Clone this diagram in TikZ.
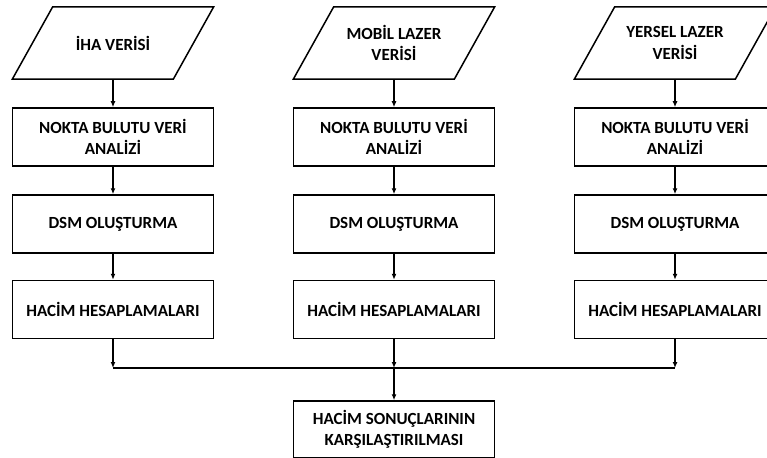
\documentclass[tikz,border=0pt]{standalone}
\usepackage{fontspec}
\setmainfont{Carlito}
\usetikzlibrary{arrows.meta}
\begin{document}
\begin{tikzpicture}[x=1pt,y=-1pt,
  txt/.style={align=center,font=\bfseries\fontsize{17}{21.5}\selectfont,inner sep=0pt},
  stepbox/.style={txt,draw,line width=1.5pt,minimum width=201pt,minimum height=58pt},
  databox/.style={txt,minimum width=201pt,minimum height=72pt},
  para/.style={line width=1.5pt,line join=miter},
  arr/.style={line width=1.6pt,-{Latex[length=6pt,width=5pt]}},
  bus/.style={line width=2.6pt}]
\useasboundingbox (0,0) rectangle (767,457);
\clip (0,0) rectangle (767,457);
% data inputs
\node[databox] (d1) at (113,43) {İHA VERİSİ};
\node[databox] (d2) at (394,43) {MOBİL LAZER\\VERİSİ};
\node[databox] (d3) at (675,43) {YERSEL LAZER\\VERİSİ};
\foreach \d in {d1,d2,d3}
  \draw[para] (\d.south west) -- ++(161,0) -- (\d.north east) -- ++(-161,0) -- cycle;
% point cloud analysis
\node[stepbox] (n1) at (113,137) {NOKTA BULUTU VERİ\\ANALİZİ};
\node[stepbox] (n2) at (394,137) {NOKTA BULUTU VERİ\\ANALİZİ};
\node[stepbox] (n3) at (675,137) {NOKTA BULUTU VERİ\\ANALİZİ};
% DSM
\node[stepbox] (s1) at (113,224) {DSM OLUŞTURMA};
\node[stepbox] (s2) at (394,224) {DSM OLUŞTURMA};
\node[stepbox] (s3) at (675,224) {DSM OLUŞTURMA};
% volume
\node[stepbox] (h1) at (113,309.5) {HACİM HESAPLAMALARI};
\node[stepbox] (h2) at (394,309.5) {HACİM HESAPLAMALARI};
\node[stepbox] (h3) at (675,309.5) {HACİM HESAPLAMALARI};
% comparison
\node[stepbox,minimum height=57pt] (c) at (394,429.5) {HACİM SONUÇLARININ\\KARŞILAŞTIRILMASI};
% junctions
\coordinate (j1) at (113,368);
\coordinate (j2) at (394,368);
\coordinate (j3) at (675,368);
\draw[bus] (j1) -- (j3);
% arrows
\draw[arr] (d1.south) -- (n1.north);
\draw[arr] (d2.south) -- (n2.north);
\draw[arr] (d3.south) -- (n3.north);
\draw[arr] (n1) -- (s1);
\draw[arr] (n2) -- (s2);
\draw[arr] (n3) -- (s3);
\draw[arr] (s1) -- (h1);
\draw[arr] (s2) -- (h2);
\draw[arr] (s3) -- (h3);
\draw[arr] (h1) -- (j1);
\draw[arr] (h2) -- (j2);
\draw[arr] (h3) -- (j3);
\draw[arr] (j2) -- (c);
\end{tikzpicture}
\end{document}
